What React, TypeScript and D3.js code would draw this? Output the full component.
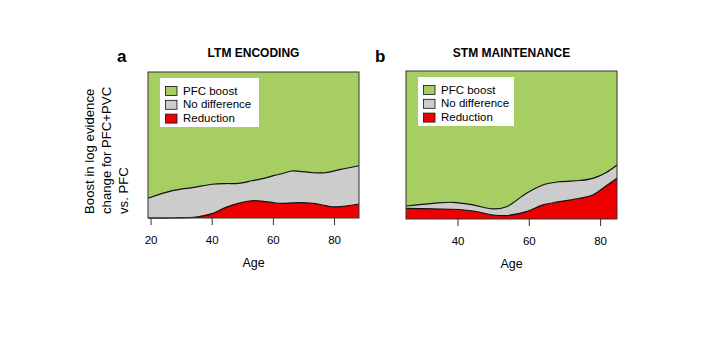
import React from 'react';
import * as d3 from 'd3';

// LTM encoding (panel a): cumulative proportions
const ltmAges = [19, 27, 34, 40, 44.5, 48.5, 53, 57.5, 60, 63, 66, 68.5, 73, 77, 79, 82, 88];
const ltmReductionTop = [0, 0, 0.005, 0.03, 0.073, 0.1, 0.118, 0.112, 0.105, 0.1, 0.103, 0.105, 0.1, 0.085, 0.077, 0.078, 0.096];
const ltmNoDiffTop = [0.135, 0.187, 0.21, 0.231, 0.236, 0.237, 0.255, 0.275, 0.29, 0.305, 0.322, 0.32, 0.31, 0.31, 0.318, 0.333, 0.358];

// STM maintenance (panel b)
const stmAges = [25.4, 33, 38.6, 44.2, 49.8, 53.6, 59.2, 63.8, 68.5, 74.1, 77.8, 81.5, 84.6];
const stmReductionTop = [0.072, 0.068, 0.066, 0.054, 0.027, 0.023, 0.05, 0.095, 0.117, 0.14, 0.162, 0.223, 0.275];
const stmNoDiffTop = [0.088, 0.106, 0.113, 0.095, 0.068, 0.083, 0.174, 0.23, 0.252, 0.26, 0.275, 0.313, 0.365];

const legendLabels = ['PFC boost', 'No difference', 'Reduction'];
const yLabelLines = ['Boost in log evidence', 'change for PFC+PVC', 'vs. PFC'];

const GREEN = '#A6CE62';
const GRAY = '#CCCCCC';
const RED = '#EE0000';
const legendColors = [GREEN, GRAY, RED];
const FONT = '"Liberation Sans", Arial, sans-serif';

type PanelProps = {
  letter: string;
  title: string;
  ages: number[];
  red: number[];
  gray: number[];
  domain: [number, number];
  ticks: number[];
  left: number;
  right: number;
  top: number;
  bottom: number;
  legendW: number;
};

const Panel = ({ letter, title, ages, red, gray, domain, ticks, left, right, top, bottom, legendW }: PanelProps) => {
  const x = d3.scaleLinear().domain(domain).range([left, right]);
  const y = d3.scaleLinear().domain([0, 1]).range([bottom, top]);
  const pts = ages.map((a, i) => ({ a, r: red[i], g: gray[i] }));

  const curve = d3.curveCatmullRom;
  const redArea = d3.area<any>().x(d => x(d.a)).y0(y(0)).y1(d => y(d.r)).curve(curve)(pts);
  const grayArea = d3.area<any>().x(d => x(d.a)).y0(d => y(d.r)).y1(d => y(d.g)).curve(curve)(pts);
  const redLine = d3.line<any>().x(d => x(d.a)).y(d => y(d.r)).curve(curve)(pts);
  const grayLine = d3.line<any>().x(d => x(d.a)).y(d => y(d.g)).curve(curve)(pts);

  const cx = (left + right) / 2;
  const lgX = left + 12;
  const lgY = top + 6;

  return (
    <g>
      <text x={left - 31} y={62} fontSize={17} fontWeight="bold" fontFamily={FONT}>{letter}</text>
      <text x={cx} y={57} textAnchor="middle" fontSize={12} fontWeight="bold" fontFamily={FONT}>{title}</text>

      <rect x={left} y={top} width={right - left} height={bottom - top} fill={GREEN} />
      <path d={grayArea || ''} fill={GRAY} />
      <path d={redArea || ''} fill={RED} />
      <path d={grayLine || ''} fill="none" stroke="#111" strokeWidth={1.2} />
      <path d={redLine || ''} fill="none" stroke="#111" strokeWidth={1.2} />
      <rect x={left} y={top} width={right - left} height={bottom - top} fill="none" stroke="#333" strokeWidth={1} />

      {ticks.map(t => (
        <g key={t}>
          <line x1={x(t)} x2={x(t)} y1={bottom} y2={bottom + 7} stroke="#333" />
          <text x={x(t)} y={bottom + 26} textAnchor="middle" fontSize={11.5} fontFamily={FONT}>{t}</text>
        </g>
      ))}
      <text x={cx} y={bottom + 49} textAnchor="middle" fontSize={12.5} fontFamily={FONT}>Age</text>

      <rect x={lgX} y={lgY} width={legendW} height={49} fill="#fff" />
      {legendLabels.map((l, i) => (
        <g key={l}>
          <rect x={lgX + 5.5} y={lgY + 8.5 + i * 13.8} width={11.5} height={9} fill={legendColors[i]} stroke="#111" strokeWidth={0.8} />
          <text x={lgX + 23} y={lgY + 16.5 + i * 13.8} fontSize={11.5} fontFamily={FONT}>{l}</text>
        </g>
      ))}
    </g>
  );
};

export default function App() {
  return (
    <svg width={714} height={351} style={{ position: 'absolute', left: 0, top: 0, background: '#fff' }}>
      <rect width={714} height={351} fill="#fff" />
      <Panel letter="a" title="LTM ENCODING" ages={ltmAges} red={ltmReductionTop} gray={ltmNoDiffTop}
        domain={[19, 88]} ticks={[20, 40, 60, 80]} left={148} right={359} top={72} bottom={218} legendW={99} />
      <Panel letter="b" title="STM MAINTENANCE" ages={stmAges} red={stmReductionTop} gray={stmNoDiffTop}
        domain={[25.4, 84.6]} ticks={[40, 60, 80]} left={406} right={617} top={71} bottom={219} legendW={96} />
      {yLabelLines.map((l, i) => (
        <text key={l} transform={`translate(${94 + i * 17},214) rotate(-90)`} fontSize={13.2} fontFamily={FONT}>{l}</text>
      ))}
    </svg>
  );
}
